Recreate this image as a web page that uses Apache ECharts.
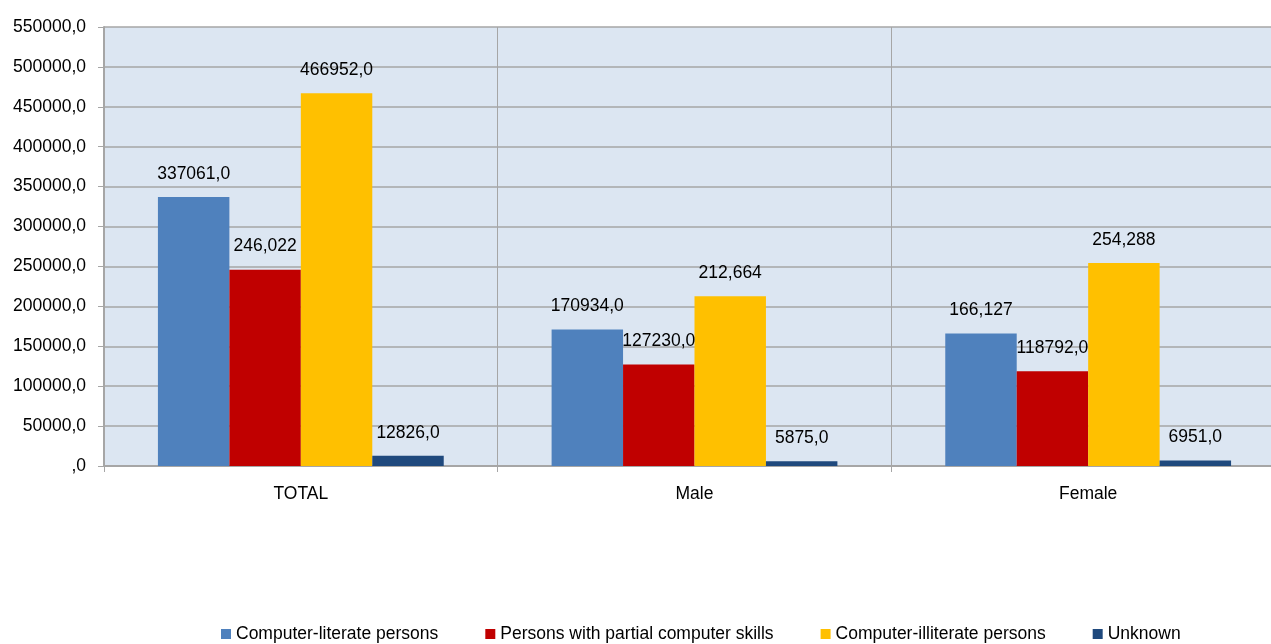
<!DOCTYPE html>
<html>
<head>
<meta charset="utf-8">
<script src="https://cdn.jsdelivr.net/npm/echarts@6/dist/echarts.min.js"></script>
<style>
html,body{margin:0;padding:0;background:#fff;overflow:hidden;}
#c{width:1290px;height:644px;}
</style>
</head>
<body>
<div id="c"></div>
<script>
const categories = ['TOTAL', 'Male', 'Female'];
const seriesNames = ['Computer-literate persons', 'Persons with partial computer skills', 'Computer-illiterate persons', 'Unknown'];
const literate = [337061, 170934, 166127];
const partial = [246022, 127230, 118792];
const illiterate = [466952, 212664, 254288];
const unknown = [12826, 5875, 6951];
const literateLabels = ['337061,0', '170934,0', '166,127'];
const partialLabels = ['246,022', '127230,0', '118792,0'];
const illiterateLabels = ['466952,0', '212,664', '254,288'];
const unknownLabels = ['12826,0', '5875,0', '6951,0'];
const colors = ['#4f81bd', '#c00000', '#ffc000', '#1f497d'];

const FONT = '"Liberation Sans", Arial, sans-serif';
const allValues = [literate, partial, illiterate, unknown];
const allLabels = [literateLabels, partialLabels, illiterateLabels, unknownLabels];

const chart = echarts.init(document.getElementById('c'), null, {renderer: 'canvas'});
chart.setOption({
  animation: false,
  backgroundColor: '#ffffff',
  color: colors,
  grid: {left: 104, right: 5, top: 27, bottom: 178, show: true, backgroundColor: '#dce6f2', borderWidth: 0},
  legend: {
    top: 620,
    left: 216,
    itemWidth: 10, itemHeight: 10,
    itemGap: 47,
    icon: 'rect',
    textStyle: {fontFamily: FONT, fontSize: 17.5, color: '#000'},
    data: seriesNames
  },
  xAxis: {
    type: 'category',
    data: categories,
    axisLine: {show: true, lineStyle: {color: '#a6a6a6', width: 2}},
    axisTick: {show: true, length: 6, lineStyle: {color: '#a6a6a6'}},
    splitLine: {show: true, lineStyle: {color: '#a6a6a6', width: 1}},
    axisLabel: {fontFamily: FONT, fontSize: 17.5, color: '#000', margin: 19}
  },
  yAxis: {
    type: 'value',
    min: 0, max: 550000, interval: 50000,
    axisLine: {show: true, lineStyle: {color: '#a6a6a6', width: 2}},
    axisTick: {show: true, length: 6, lineStyle: {color: '#a6a6a6'}},
    splitLine: {show: true, lineStyle: {color: '#a6a6a6', width: 1.5}},
    axisLabel: {
      fontFamily: FONT, fontSize: 17.5, color: '#000', margin: 18,
      formatter: v => v === 0 ? ',0' : v + ',0'
    }
  },
  series: seriesNames.map((name, i) => ({
    name: name,
    type: 'bar',
    data: allValues[i],
    barGap: '0%',
    barCategoryGap: '27.4%',
    itemStyle: {color: colors[i]},
    label: {
      show: true,
      position: 'top',
      distance: 14,
      fontFamily: FONT, fontSize: 17.5, color: '#000',
      formatter: p => allLabels[i][p.dataIndex]
    }
  }))
});
</script>
</body>
</html>
